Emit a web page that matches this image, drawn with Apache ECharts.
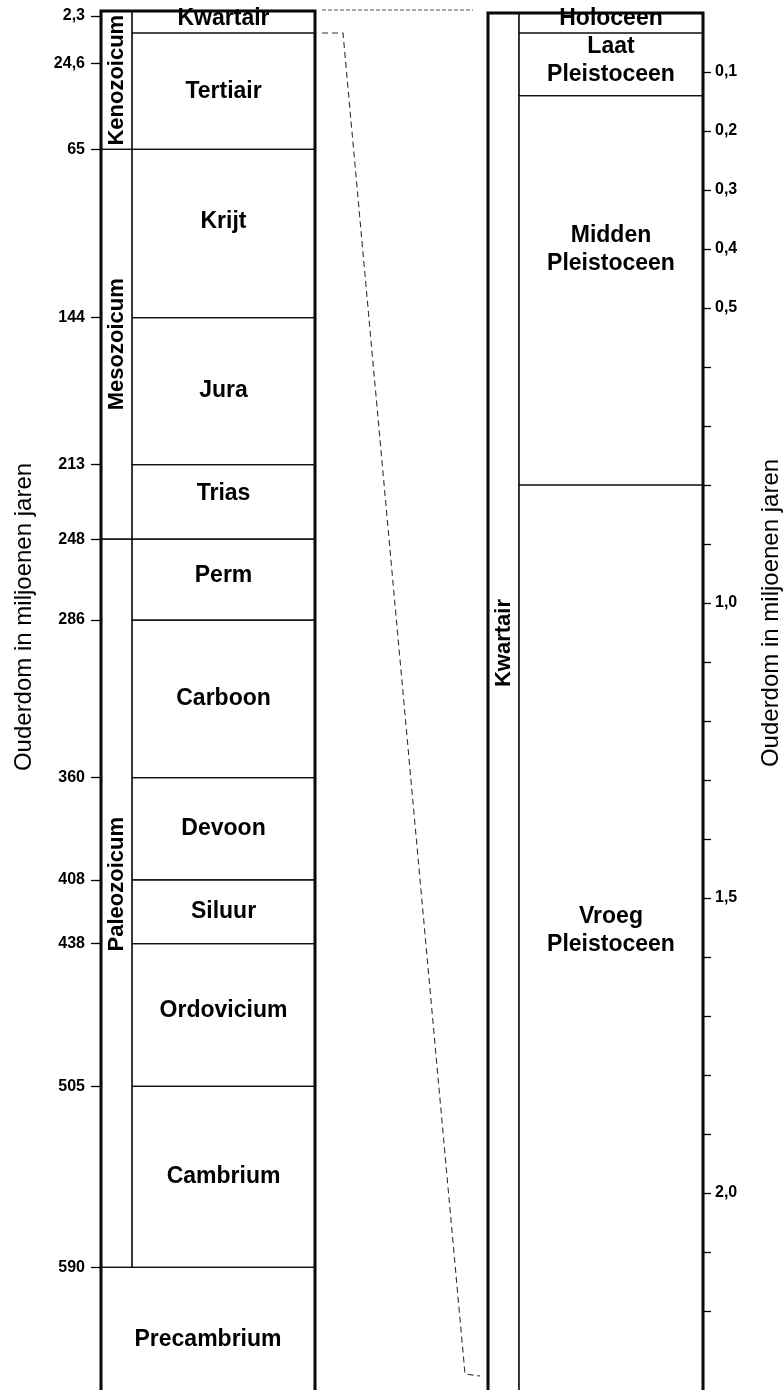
<!DOCTYPE html>
<html><head><meta charset="utf-8">
<script src="https://cdn.jsdelivr.net/npm/echarts@6/dist/echarts.min.js"></script>
<style>html,body{margin:0;padding:0;background:#fff}#c{width:783px;height:1390px}</style>
</head><body><div id="c"></div>
<script>
// ---------------- data ----------------
const leftPeriodNames = ['Kwartair','Tertiair','Krijt','Jura','Trias','Perm','Carboon','Devoon','Siluur','Ordovicium','Cambrium'];
const leftPeriodBounds = [0, 2.3, 65, 144, 213, 248, 286, 360, 408, 438, 505, 590];
const leftEraNames = ['Kenozoicum','Mesozoicum','Paleozoicum'];
const leftEraBounds = [0, 65, 248, 590];
const precambrianName = 'Precambrium';
const precambrianStart = 590;
const leftTickValues = [2.3, 24.6, 65, 144, 213, 248, 286, 360, 408, 438, 505, 590];

const rightPeriodNames = ['Holoceen','Laat\nPleistoceen','Midden\nPleistoceen','Vroeg\nPleistoceen'];
const rightPeriodBounds = [0, 0.01, 0.14, 0.8];
const rightEraName = 'Kwartair';
const rightTickValues = [0.1,0.2,0.3,0.4,0.5,0.6,0.7,0.8,0.9,1.0,1.1,1.2,1.3,1.4,1.5,1.6,1.7,1.8,1.9,2.0,2.1,2.2];
const rightLabelValues = [0.1,0.2,0.3,0.4,0.5,1.0,1.5,2.0];
const kwartairEnd = 2.3;
const axisTitle = 'Ouderdom in miljoenen jaren';

// ---------------- layout / style ----------------
const FONT = '"Liberation Sans", Arial, Helvetica, sans-serif';
const leftMax = 665, rightMax = 2.4;
const leftScale = 2.1295, rightScale = 590;   // px per unit
const leftSplit = 0.145, rightSplit = 0.144;
const leftMinCell = 22, rightMinCell = 20;
const leftShift = {Kwartair:-3, Krijt:-12, Trias:-8, Perm:-4, Ordovicium:-4, Paleozoicum:-19};
const rightShift = {'Holoceen':-4, 'Laat\nPleistoceen':-4, 'Midden\nPleistoceen':-41, 'Vroeg\nPleistoceen':-8};
const cellLine = {stroke:'#111', lineWidth:1.2, fill:null};
const labelFont = {fontFamily: FONT, fontWeight:'bold', fontSize:23, lineHeight:28, fill:'#000', align:'center', verticalAlign:'middle'};
const eraFont = {fontFamily: FONT, fontWeight:'bold', fontSize:22, fill:'#000', align:'center', verticalAlign:'middle'};
// label centres of the open-ended cells (visible part of the page)
const openCellCentre = {Precambrium: 1340, Kwartair: 643, 'Vroeg\nPleistoceen': 931};

function drawnYs(api, bounds, minPx) {
  const ys = [];
  for (let i = 0; i < bounds.length; i++) {
    let y = api.coord([0, bounds[i]])[1];
    if (i > 0 && y < ys[i-1] + minPx) y = ys[i-1] + minPx;
    ys.push(y);
  }
  return ys;
}

function makeCells(names, bounds, end, x0f, x1f, minPx, shifts, rotated) {
  const allB = bounds.concat([end]);
  return function (params, api) {
    const i = params.dataIndex;
    const ys = drawnYs(api, allB, minPx);
    const xa = api.coord([x0f, 0])[0], xb = api.coord([x1f, 0])[0];
    const top = ys[i], bot = ys[i+1];
    const name = names[i];
    const isOpen = (i === names.length - 1) && (end === leftMax || end === rightMax);
    const cy = (isOpen && openCellCentre[name] != null) ? openCellCentre[name] : (top + bot) / 2 + (shifts[name] || 0);
    return {
      type: 'group',
      children: [
        {type:'rect', shape:{x:xa, y:top, width:xb-xa, height:bot-top}, style: cellLine},
        {type:'text', x:(xa+xb)/2, y:cy, rotation: rotated ? Math.PI/2 : 0,
         style: Object.assign({text: name}, rotated ? eraFont : labelFont)}
      ]
    };
  };
}

function cellData(bounds, end) {
  return bounds.map((b, i) => [b, i + 1 < bounds.length ? bounds[i+1] : end]);
}

const chart = echarts.init(document.getElementById('c'), null, {renderer:'canvas'});
const fmt = v => (Math.round(v*10)/10).toString().replace('.', ',');
const fmtR = v => Number(v).toFixed(1).replace('.', ',');

chart.setOption({
  backgroundColor: '#fff',
  animation: false,
  textStyle: {fontFamily: FONT},
  grid: [
    {left: 101, top: 11, width: 214, height: leftMax * leftScale, show: true, borderColor: '#000', borderWidth: 3,
     containLabel: false, outerBoundsMode: 'none'},
    {left: 488, top: 13, width: 215, height: rightMax * rightScale, show: true, borderColor: '#000', borderWidth: 3,
     containLabel: false, outerBoundsMode: 'none'}
  ],
  xAxis: [
    {gridIndex: 0, type: 'value', min: 0, max: 1, show: false},
    {gridIndex: 1, type: 'value', min: 0, max: 1, show: false}
  ],
  yAxis: [
    {gridIndex: 0, type: 'value', inverse: true, min: 0, max: leftMax, position: 'left',
     axisLine: {show: false, onZero: false}, splitLine: {show: false},
     axisTick: {show: true, length: 10, customValues: leftTickValues, lineStyle: {color: '#000', width: 1.3}},
     axisLabel: {show: true, customValues: leftTickValues, formatter: fmt, margin: 16,
                 color: '#000', fontSize: 16, fontWeight: 'bold', fontFamily: FONT}},
    {gridIndex: 1, type: 'value', inverse: true, min: 0, max: rightMax, position: 'right',
     axisLine: {show: false, onZero: false}, splitLine: {show: false},
     axisTick: {show: true, length: 8, customValues: rightTickValues, lineStyle: {color: '#000', width: 1.3}},
     axisLabel: {show: true, customValues: rightLabelValues, formatter: fmtR, margin: 12,
                 color: '#000', fontSize: 16, fontWeight: 'bold', fontFamily: FONT}}
  ],
  series: [
    {type: 'custom', name: 'leftEras', xAxisIndex: 0, yAxisIndex: 0, clip: false,
     encode: {y: [0, 1]}, data: cellData(leftEraBounds.slice(0, -1), leftEraBounds[leftEraBounds.length-1]),
     renderItem: makeCells(leftEraNames, leftEraBounds.slice(0, -1), leftEraBounds[leftEraBounds.length-1], 0, leftSplit, leftMinCell, leftShift, true)},
    {type: 'custom', name: 'leftPeriods', xAxisIndex: 0, yAxisIndex: 0, clip: false,
     encode: {y: [0, 1]}, data: cellData(leftPeriodBounds.slice(0, -1), leftPeriodBounds[leftPeriodBounds.length-1]),
     renderItem: makeCells(leftPeriodNames, leftPeriodBounds.slice(0, -1), leftPeriodBounds[leftPeriodBounds.length-1], leftSplit, 1, leftMinCell, leftShift, false)},
    {type: 'custom', name: 'precambrium', xAxisIndex: 0, yAxisIndex: 0, clip: false,
     encode: {y: [0, 1]}, data: cellData([precambrianStart], leftMax),
     renderItem: makeCells([precambrianName], [precambrianStart], leftMax, 0, 1, leftMinCell, leftShift, false)},
    {type: 'custom', name: 'rightEra', xAxisIndex: 1, yAxisIndex: 1, clip: false,
     encode: {y: [0, 1]}, data: cellData([0], rightMax),
     renderItem: makeCells([rightEraName], [0], rightMax, 0, rightSplit, rightMinCell, rightShift, true)},
    {type: 'custom', name: 'rightPeriods', xAxisIndex: 1, yAxisIndex: 1, clip: false,
     encode: {y: [0, 1]}, data: cellData(rightPeriodBounds, rightMax),
     renderItem: makeCells(rightPeriodNames, rightPeriodBounds, rightMax, rightSplit, 1, rightMinCell, rightShift, false)}
  ]
});

// axis titles and connectors between the two columns (positions from the axes' scales)
const L0 = chart.convertToPixel({gridIndex: 0}, [1, 0]);
const Lk = chart.convertToPixel({gridIndex: 0}, [1, kwartairEnd]);
const R0 = chart.convertToPixel({gridIndex: 1}, [0, 0]);
const Rk = chart.convertToPixel({gridIndex: 1}, [0, kwartairEnd]);
const lkY = Math.max(Lk[1], L0[1] + leftMinCell);
chart.setOption({
  graphic: [
    {id: 'titleL', type: 'text', silent: true, x: 24, y: 617, rotation: Math.PI/2,
     style: {text: axisTitle, fontFamily: FONT, fontSize: 24, fill: '#000', align: 'center', verticalAlign: 'middle'}},
    {id: 'titleR', type: 'text', silent: true, x: 771, y: 613, rotation: Math.PI/2,
     style: {text: axisTitle, fontFamily: FONT, fontSize: 24, fill: '#000', align: 'center', verticalAlign: 'middle'}},
    {id: 'connTop', type: 'polyline', silent: true, shape: {points: [[L0[0] + 7, L0[1] - 1], [R0[0] - 15, L0[1] - 1]]},
     style: {stroke: '#555', lineWidth: 1, lineDash: [4, 2], fill: null}},
    {id: 'connBot', type: 'polyline', silent: true, shape: {points: [[L0[0] + 7, lkY], [L0[0] + 28, lkY], [Rk[0] - 23, Rk[1] + 4], [Rk[0] - 8, Rk[1] + 6]]},
     style: {stroke: '#333', lineWidth: 1.1, lineDash: [6, 4], fill: null}}
  ]
});
</script>
</body></html>
